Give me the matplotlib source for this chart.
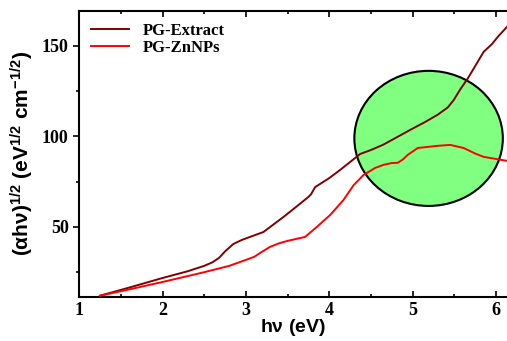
import matplotlib.pyplot as plt
from matplotlib.patches import Ellipse
import numpy as np

plt.rcParams['mathtext.fontset'] = 'custom'
plt.rcParams['mathtext.rm'] = 'Liberation Sans'
plt.rcParams['mathtext.it'] = 'Liberation Sans:italic'
plt.rcParams['mathtext.bf'] = 'Liberation Sans:bold'

# Tauc plot data, (alpha*h*nu)^(1/2) against photon energy
hv_extract = [1.25, 1.6, 2.0, 2.3, 2.5, 2.6, 2.68, 2.75, 2.85, 2.95, 3.05, 3.21, 3.45, 3.6, 3.75, 3.78,
              3.83, 4.0, 4.13, 4.37, 4.5, 4.65, 4.97, 5.15, 5.3, 5.42, 5.49, 5.57, 5.66, 5.85, 5.95, 6.02, 6.13]
y_extract = [12, 16.5, 21.8, 25.5, 28.5, 30.5, 33, 36.5, 40.6, 42.8, 44.5, 47.2, 55.5, 61, 66.6, 68,
             72, 77, 81.5, 90.3, 92.5, 95.5, 103.6, 108, 112, 116, 120, 126, 132, 146.7, 151, 155, 160.5]

hv_znnps = [1.25, 1.6, 2.0, 2.5, 2.8, 3.0, 3.1, 3.2, 3.29, 3.4, 3.5, 3.71, 3.85, 4.01, 4.17, 4.29,
            4.41, 4.55, 4.65, 4.75, 4.82, 4.88, 4.94, 5.06, 5.3, 5.45, 5.61, 5.75, 5.85, 6.13]
y_znnps = [12, 15.5, 19.6, 25, 28.5, 31.8, 33.5, 36.5, 39, 41, 42.3, 44.5, 50, 56.6, 64.9, 73,
           78.7, 82.6, 84.3, 85.3, 85.4, 87.2, 89.8, 93.6, 94.8, 95.3, 93.6, 90.5, 88.7, 86.5]

fig = plt.figure(figsize=(5.07, 3.41), dpi=100)
ax = fig.add_axes([0.156, 0.129, 0.844, 0.839])

ax.add_patch(Ellipse((5.19, 98.9), 1.78, 74.6, facecolor='#80ff80',
                     edgecolor='black', linewidth=1.5, zorder=1))
ax.plot(hv_extract, y_extract, color='#800000', lw=1.4, label='PG-Extract', zorder=3)
ax.plot(hv_znnps, y_znnps, color='#ff0000', lw=1.4, label='PG-ZnNPs', zorder=3)

ax.set_xlim(1, 6.13)
ax.set_ylim(11.3, 169.3)
ax.set_xticks([1, 2, 3, 4, 5, 6])
ax.set_xticks(np.arange(1.5, 6.2, 1.0), minor=True)
ax.set_yticks([50, 100, 150])
ax.set_yticks([25, 75, 125], minor=True)

ax.spines['right'].set_visible(False)
for s in ['left', 'bottom', 'top']:
    ax.spines[s].set_linewidth(1.5)

ax.tick_params(axis='x', which='both', direction='in', top=True, width=1.2)
ax.tick_params(axis='x', which='major', length=4)
ax.tick_params(axis='x', which='minor', length=2.5)
ax.tick_params(axis='y', which='both', direction='out', width=1.2)
ax.tick_params(axis='y', which='major', length=4)
ax.tick_params(axis='y', which='minor', length=2.5)

for lab in ax.get_xticklabels() + ax.get_yticklabels():
    lab.set_family('Liberation Serif')
    lab.set_fontsize(13)
    lab.set_fontweight('bold')

ax.set_xlabel(r'$\mathbf{h\nu\ (eV)}$', fontsize=14, labelpad=-1)
ax.set_ylabel(r'$\mathbf{(\alpha h\nu)^{1/2}\ (eV^{1/2}\ cm^{-1/2})}$',
              fontsize=15, labelpad=4)

leg = ax.legend(loc='upper left', frameon=False, handlelength=2.3,
                prop={'family': 'Liberation Serif', 'weight': 'bold', 'size': 12},
                borderaxespad=0.3, labelspacing=0.1)

fig.savefig('out.png', dpi=100)
